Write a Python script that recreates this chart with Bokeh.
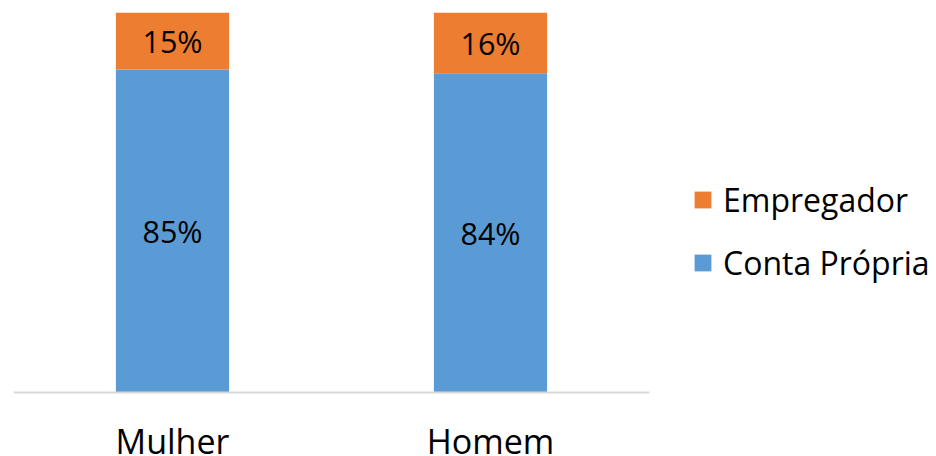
from bokeh.plotting import figure
from bokeh.models import (ColumnDataSource, LabelSet, Legend, LegendItem, Range1d,
                          FixedTicker)
from bokeh.core.properties import value
from bokeh.embed import file_html
from bokeh.resources import INLINE

categories = ["Mulher", "Homem"]
conta_propria = [85, 84]
empregador = [15, 16]
series = ["Conta Própria", "Empregador"]
colors = ["#5B9BD5", "#ED7D31"]

FONT = "Open Sans"
n = len(categories)

src = ColumnDataSource(dict(
    x=list(range(n)),
    cat=categories,
    base=[0] * n,
    cp=conta_propria,
    emp=empregador,
    cp_mid=[v / 2 for v in conta_propria],
    emp_mid=[c + e / 2 for c, e in zip(conta_propria, empregador)],
    cp_lab=[f"{v}%" for v in conta_propria],
    emp_lab=[f"{v}%" for v in empregador],
))

# frame: 13..936 px horizontally (318 px per category), 12..456 px vertically
p = figure(width=936, height=456, output_backend="svg", toolbar_location=None,
           min_border_left=13, min_border_top=12, min_border_right=0,
           min_border_bottom=0)
p.x_range = Range1d(-0.5, -0.5 + 923 / 318)
p.y_range = Range1d(100 - 100 * 444 / 380, 100)

r = p.vbar_stack(["cp", "emp"], x="x", width=0.356, source=src, color=colors,
                 line_color=None)

for ycol, tcol in (("cp_mid", "cp_lab"), ("emp_mid", "emp_lab")):
    p.add_layout(LabelSet(x="x", y=ycol, text=tcol, source=src,
                          text_align="center", text_baseline="middle",
                          text_font=value(FONT), text_font_size="30.5px",
                          text_color="#000000"))

# category labels under the baseline
p.add_layout(LabelSet(x="x", y="base", text="cat", source=src, y_offset=-48,
                      text_align="center", text_baseline="middle",
                      text_font=value(FONT), text_font_size="34px",
                      text_color="#000000"))

legend = Legend(items=[LegendItem(label=series[1], renderers=[r[1]]),
                       LegendItem(label=series[0], renderers=[r[0]])],
                location=(679, 172))
legend.label_text_font = FONT
legend.label_text_font_size = "32px"
legend.label_text_color = "#000000"
legend.glyph_width = 21
legend.glyph_height = 21
legend.label_standoff = 10
legend.spacing = 20
legend.padding = 0
legend.margin = 0
legend.border_line_color = None
legend.background_fill_alpha = 0
p.add_layout(legend, "center")

p.yaxis.visible = False
p.xgrid.visible = False
p.ygrid.visible = False
p.outline_line_color = None

ax = p.xaxis[0]
ax.ticker = FixedTicker(ticks=[])
ax.fixed_location = 0
ax.bounds = (-0.5, n - 0.5)
ax.axis_line_color = "#D9D9D9"
ax.axis_line_width = 2
ax.major_tick_line_color = None
ax.minor_tick_line_color = None
ax.major_tick_out = 0
ax.major_tick_in = 0
ax.minor_tick_out = 0
ax.minor_tick_in = 0
ax.major_label_standoff = 0

open("out.html", "w").write(file_html(p, INLINE))
